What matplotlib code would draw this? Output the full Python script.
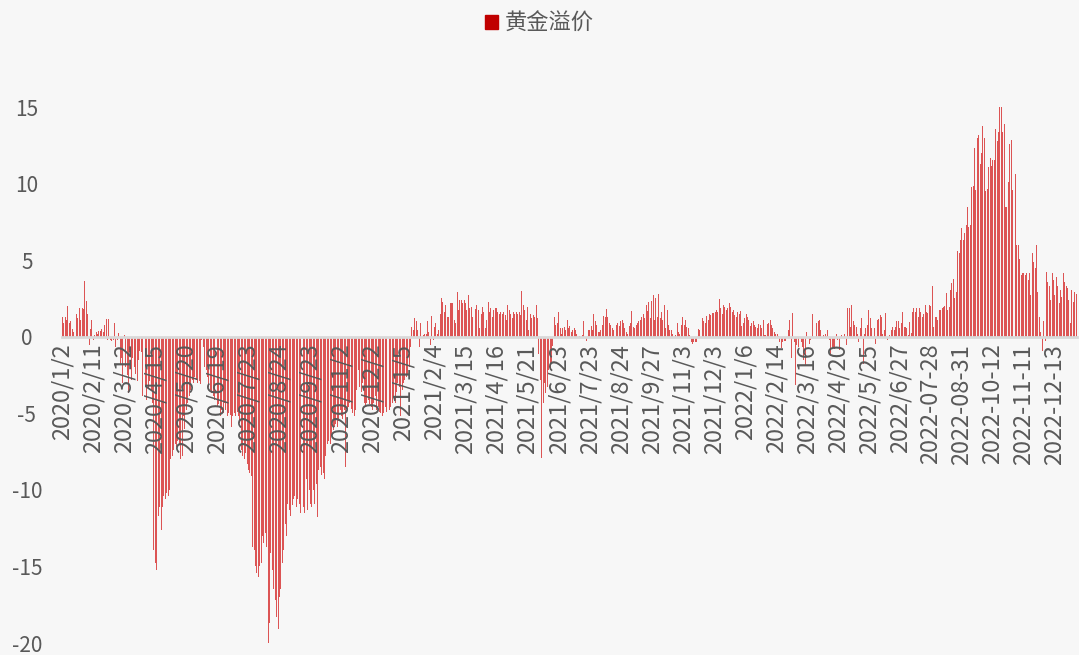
import matplotlib
matplotlib.use('Agg')
import matplotlib.pyplot as plt
from matplotlib.patches import Patch
import numpy as np

plt.rcParams['font.family'] = ['Noto Sans CJK SC', 'DejaVu Sans']
plt.rcParams['axes.unicode_minus'] = False

# 黄金溢价 daily values in blocks (2020/1/2 -> 2022-12-30)
seg_a = [1.3, 0.9, 1.3, 1.1, 2.0, 0.9, 1.0, 0.5, 0.3, 1.8,
         1.5, 1.2, 1.9, 1.1, 1.9, 1.8, 3.65, 2.35, 1.5, -0.55,
         0.5, 1.1, -0.2, 0.1, 0.3, 0.2, 0.4, 0.4, 0.5, 0.3,
         0.8, 1.15, -0.2, 1.15, -0.2, -0.3, -0.2, 0.9, -0.7, -0.2,
         0.26, -1.8, -1.4, -3.0, 0.1, -2.0, -2.5, -3.7, -1.0, -2.8,
         -1.4, -2.0, -2.4, -2.9, -1.5, -0.9, -1.0, -3.9, -0.1]
seg_b = [-3.15, -4.1, -3.4, -2.9, -3.5, -4.35, -13.9, -14.8, -15.2, -11.7,
         -11.1, -12.6, -11.1, -10.4, -10.6, -10.2, -10.4, -10.0, -8.0, -7.8,
         -7.4, -7.0, -7.2, -6.8, -7.0, -8.0, -7.8, -5.2, -6.0, -4.8,
         -4.35, -3.9, -3.5, -2.8, -3.0, -2.6, -2.8, -3.0, -2.9, -3.1,
         -0.2, -0.65, -2.0, -2.2, -2.6, -3.3, -3.5, -3.7, -3.9, -4.1,
         -4.35, -4.6, -4.4, -5.2, -4.8, -5.0, -4.35, -4.8, -5.2, -5.0,
         -5.1]
seg_c = [-5.9, -5.2, -5.0, -5.2, -4.9, -5.2, -5.6, -7.4, -7.8, -8.0,
         -7.6, -8.3, -8.7, -8.9, -9.1, -13.7, -13.9, -15.0, -15.4, -15.7,
         -15.0, -14.8, -13.0, -13.5, -12.8, -13.7, -20.0, -18.7, -14.1, -15.2,
         -16.5, -17.2, -18.3, -19.1, -17.0, -16.5, -14.8, -13.9, -12.2, -13.0,
         -10.9, -11.3, -11.7, -11.0, -10.6, -10.4, -11.1, -10.6, -10.9, -11.5,
         -12.6, -11.1, -11.5, -9.3, -11.3, -10.0, -10.9, -11.1, -10.0, -10.9]
seg_d = [-9.6, -11.8, -8.7, -8.5, -9.0, -8.9, -9.3, -7.8, -7.0, -6.8,
         -7.0, -6.5, -6.1, -5.9, -5.7, -5.9, -5.5, -4.8, -5.2, -5.4,
         -4.8, -8.5, -4.8, -4.6, -4.35, -4.7, -5.0, -5.2, -4.8, -3.5,
         -2.2, -3.3, -3.6, -3.0, -4.35, -4.6, -4.35, -4.1, -4.4, -4.6,
         -4.8, -4.35, -3.9, -4.8, -4.6, -4.9, -5.0, -5.2, -5.0, -4.6,
         -4.9, -5.2, -4.8, -4.6, -4.35, -3.9, -4.35, -3.6, -3.0, -3.3,
         -5.2]
seg_e = [-3.5, -3.0, -2.8, -2.6, -2.4, -2.0, -0.65, 0.65, 0.45, 1.2,
         1.0, 0.45, -0.65, 0.9, 0.0, 0.1, 0.2, 0.2, 1.0, 0.3,
         -0.55, 1.35, -0.2, 0.65, 0.9, 0.2, 0.45, 1.5, 2.55, 2.3,
         1.6, 2.05, 1.3, 1.3, 2.2, 2.2, 2.2, 1.1, 0.9, 2.9,
         1.75, 2.4, 2.4, 2.2, 2.4, 2.2, 1.75, 2.7, 1.85, 1.95,
         1.3, 2.05, 1.8, 2.05, 1.75, 0.55, 1.5, 1.95, 1.6, 0.55]
seg_f = [1.1, 2.25, 1.6, 1.85, 1.3, 1.75, 1.85, 1.85, 1.6, 1.5,
         1.6, 1.5, 1.6, 1.4, 1.1, 2.05, 1.75, 1.5, 1.2, 1.6,
         1.5, 1.6, 1.5, 1.6, 1.4, 3.0, 2.05, 1.75, 1.1, 1.95,
         0.45, 1.5, 1.2, 1.4, 1.3, 2.05, 1.2, -1.1, -2.8, -7.9,
         -4.3, -3.0, -3.7, -3.3, -2.2, -2.2, -1.7, -0.6, 1.3, 0.75,
         0.9, 1.6, 0.55, 0.2, 0.55, 0.65, 0.45, 1.1, 0.55, 0.7]
seg_g = [0.3, 0.45, 0.55, 0.45, 0.2, 0.0, 0.05, 0.0, 0.1, 1.0,
         0.0, -0.25, 0.45, 0.45, 0.7, 0.45, 1.5, 1.0, 0.75, 0.3,
         0.3, 0.45, 0.75, 1.35, 1.3, 1.8, 1.3, 0.9, 0.75, 0.6,
         0.45, 1.1, 0.75, 0.9, 0.7, 1.0, 1.1, 0.9, 0.6, 0.3,
         0.2, 0.7, 0.9, 1.7, 0.65, 0.55, 0.75, 0.9, 1.0, 1.1,
         1.3, 1.5, 1.2, 2.05, 1.7, 2.3, 1.2, 2.35, 2.7, 1.1]
seg_h = [2.5, 1.3, 2.8, 1.2, 1.6, 1.1, 2.05, 0.55, 1.75, 0.75,
         0.45, 0.45, 0.2, -0.1, 0.1, 0.9, 0.3, 0.2, 0.75, 1.3,
         0.75, 1.1, 0.65, 0.55, 0.1, -0.35, -0.45, -0.35, -0.35, -0.35,
         0.5, 0.45, 0.75, 1.2, 1.0, 0.9, 1.35, 1.1, 1.5, 1.4,
         1.55, 1.55, 1.6, 1.75, 1.6, 2.45, 1.85, 1.5, 2.05, 1.95,
         1.75, 1.9, 2.2, 1.95, 1.6, 1.75, 1.4, 1.3, 1.6, 1.5,
         1.7]
seg_i = [0.7, 0.9, 1.2, 1.5, 1.3, 1.1, 0.7, 0.9, 1.0, 0.8,
         0.65, 0.55, 0.85, 0.75, 0.55, 1.1, 0.1, 0.1, 0.85, 0.9,
         1.1, 0.8, 0.55, 0.3, 0.2, 0.2, 0.05, -0.35, -0.75, -0.35,
         -0.25, -0.3, -0.45, 0.45, 1.1, -1.4, 1.55, -0.35, -3.15, -0.55,
         -0.65, -0.1, -0.35, -0.65, -1.5, -1.85, 0.3, 0.0, -0.45, -0.2,
         1.5, 0.0, 0.0, 0.9, 1.0, 1.1, 0.45, -0.1, 0.1, 0.2]
seg_j = [0.05, 0.45, -0.2, -1.1, -0.65, -0.75, -0.8, 0.2, -0.2, -0.85,
         0.0, 0.1, -0.1, 0.2, -0.55, 1.85, 1.85, 0.65, 2.05, 1.0,
         0.75, 0.65, 0.2, -0.35, 0.55, 1.2, -1.8, 0.2, 0.55, 0.75,
         1.75, 1.2, 0.55, 1.8, 0.55, -0.45, 1.1, 1.15, 1.4, 1.3,
         0.2, 0.45, 1.55, -0.2, -0.1, 0.1, 0.45, 0.65, 0.45, 0.65,
         1.0, 1.0, 0.55, 0.9, 1.6, 0.65, 0.65, 0.55, 0.1]
seg_k = [0.95, 0.25, 1.65, 1.85, 1.65, 1.85, 1.3, 1.85, 1.65, 1.3,
         1.5, 2.1, 1.65, 1.55, 2.1, 2.0, 3.3, 0.65, 1.3, 1.3,
         1.1, 1.75, 1.75, 1.85, 1.95, 2.0, 2.85, 1.75, 1.95, 3.05,
         3.5, 3.8, 2.5, 2.95, 5.6, 5.45, 6.3, 7.1, 6.3, 6.8,
         7.3, 8.5, 7.2, 7.3, 9.8, 9.85, 12.3, 9.6, 12.95, 13.2,
         11.3, 12.0, 13.75, 12.95, 9.5, 9.65, 11.1, 11.65, 11.15, 11.55]
seg_l = [11.55, 13.6, 12.8, 13.4, 15.0, 15.0, 13.4, 13.9, 8.5, 8.5,
         10.1, 12.6, 12.85, 9.6, 9.25, 10.6, 6.0, 6.0, 5.1, 4.05,
         4.15, 4.15, 4.05, 4.15, 3.7, 4.15, 2.75, 5.45, 4.9, 4.5,
         6.0, 2.95, 1.3, 0.3, -0.95, 1.0, -0.3, 4.25, 3.6, 3.3,
         2.4, 4.15, 3.7, 2.75, 3.9, 3.3, 2.2, 3.05, 2.6, 4.15,
         3.6, 3.3, 3.2, 2.4, 0.9, 3.05, 2.3, 2.95, 2.8]

# one label every 22 trading days
tick_labels = ['2020/1/2', '2020/2/11', '2020/3/12', '2020/4/15', '2020/5/20',
               '2020/6/19', '2020/7/23', '2020/8/24', '2020/9/23', '2020/11/2',
               '2020/12/2', '2021/1/5', '2021/2/4', '2021/3/15', '2021/4/16',
               '2021/5/21', '2021/6/23', '2021/7/23', '2021/8/24', '2021/9/27',
               '2021/11/3', '2021/12/3', '2022/1/6', '2022/2/14', '2022/3/16',
               '2022/4/20', '2022/5/25', '2022/6/27', '2022-07-28', '2022-08-31',
               '2022-10-12', '2022-11-11', '2022-12-13']

premium = np.array(seg_a + seg_b + seg_c + seg_d + seg_e + seg_f +
                   seg_g + seg_h + seg_i + seg_j + seg_k + seg_l)
x = np.arange(len(premium))

bg = '#f7f7f7'
txt = '#595959'
bar_color = '#dc5454'
legend_color = '#c00000'

fig = plt.figure(figsize=(10.79, 6.55), dpi=100, facecolor=bg)
ax = fig.add_axes([0.0571, 0.0183, 0.9408, 0.9351])
ax.set_facecolor(bg)

ax.bar(x, premium, width=0.7, color=bar_color, linewidth=0)

ax.set_xlim(-0.5, len(premium) - 0.5)
ax.set_ylim(-20, 20)
ax.set_yticks(range(-20, 20, 5))
ax.tick_params(axis='y', length=0, pad=25, labelsize=15, labelcolor=txt)
for lbl in ax.get_yticklabels():
    lbl.set_horizontalalignment('center')

ticks = x[::22][:len(tick_labels)]
ax.set_xticks(ticks)
ax.set_xticklabels(tick_labels)
ax.tick_params(axis='x', length=0, pad=5, labelsize=17, labelcolor=txt,
               labelrotation=90)

for s in ['top', 'right', 'left']:
    ax.spines[s].set_visible(False)
ax.spines['bottom'].set_position(('data', 0))
ax.spines['bottom'].set_color('#d9d9d9')
ax.spines['bottom'].set_linewidth(2)

fig.legend(handles=[Patch(color=legend_color)], labels=['黄金溢价'],
           loc='upper center', bbox_to_anchor=(0.5, 1.012), frameon=False,
           fontsize=16, labelcolor=txt, handlelength=0.6, handleheight=0.6,
           handletextpad=0.3)

fig.savefig('out.png', dpi=100, facecolor=bg)
